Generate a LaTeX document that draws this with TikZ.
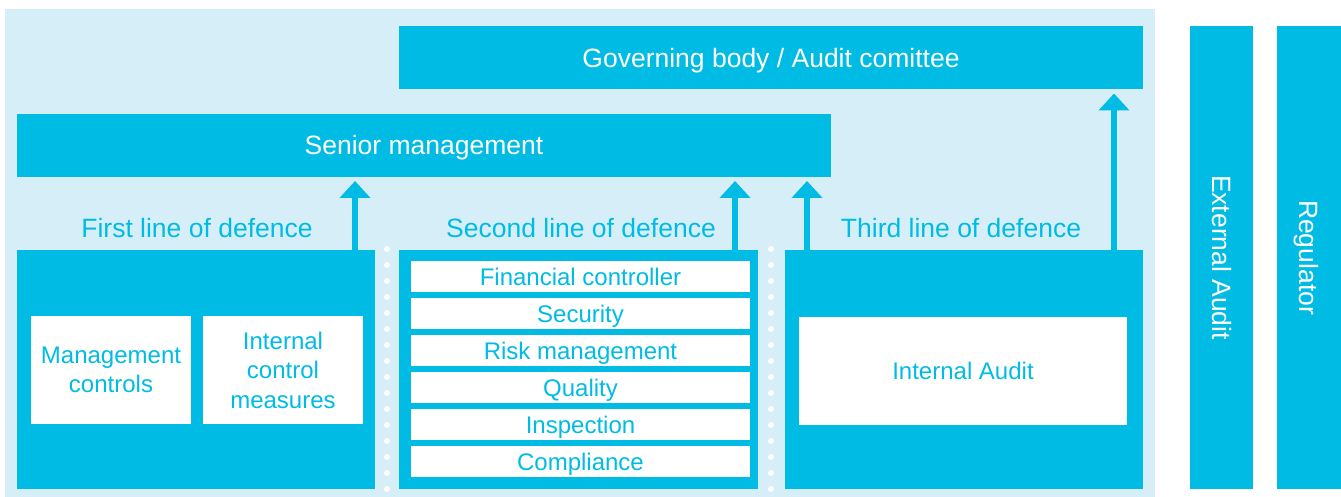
\documentclass[tikz,border=0pt]{standalone}
\usepackage{fontspec}
\setmainfont{Liberation Sans}
\usetikzlibrary{arrows.meta}
\definecolor{cy}{HTML}{00BCE4}
\definecolor{lb}{HTML}{D6EEF8}
\tikzset{
  box/.style={fill=cy, inner sep=0pt, outer sep=0pt, draw=none},
  bigtxt/.style={text=white, font=\fontsize{26.5}{32}\selectfont, text height=19pt, text depth=0pt},
  wbox/.style={fill=white, inner sep=0pt, outer sep=0pt, draw=none, text=cy, font=\fontsize{24}{29.5}\selectfont, align=center},
  onel/.style={text height=17.2pt, text depth=0pt},
  row/.style={wbox, onel, minimum width=339pt, minimum height=31pt},
  lbl/.style={text=cy, font=\fontsize{26.5}{32}\selectfont, inner sep=0pt, text height=19pt, text depth=0pt},
  arr/.style={draw=cy, line width=6pt, -{Triangle[width=30pt,length=17pt]}, shorten >=4pt},
  dots/.style={draw=white, line width=6pt, line cap=round, dash pattern=on 0pt off 16pt}
}
\begin{document}
\begin{tikzpicture}[x=1pt,y=-1pt]
\useasboundingbox (0,0) rectangle (1341,497);
\fill[lb] (5,9) rectangle (1155,497);

\node[box, bigtxt, minimum width=744pt, minimum height=63pt] (gov) at (771,58) {Governing body / Audit comittee};
\node[box, bigtxt, minimum width=814pt, minimum height=63pt] (senior) at (424,145.5) {Senior management};

\node[box, minimum width=358pt, minimum height=239pt] (first) at (196,369.5) {};
\node[box, minimum width=359pt, minimum height=239pt] (second) at (578.5,369.5) {};
\node[box, minimum width=358pt, minimum height=239pt] (third) at (964,369.5) {};

\node[box, bigtxt, minimum width=63pt, minimum height=463pt] (ext) at (1221.5,257.5) {};
\node[bigtxt, rotate=-90, inner sep=0pt] (extt) at (ext.center) {External Audit};
\node[box, bigtxt, minimum width=64pt, minimum height=463pt] (reg) at (1309,257.5) {};
\node[bigtxt, rotate=-90, inner sep=0pt] (regt) at (reg.center) {Regulator};

\node[lbl] (l1) at (197,228) {First line of defence};
\node[lbl] (l2) at (581,228) {Second line of defence};
\node[lbl] (l3) at (961,228) {Third line of defence};

\node[wbox, minimum width=160pt, minimum height=108pt] (mc) at (111,370) {Management\\controls};
\node[wbox, minimum width=160pt, minimum height=108pt] (icm) at (283,370) {Internal\\control\\measures};

\node[row] (r1) at (580.5,276.5) {Financial controller};
\node[row] (r2) at (580.5,313.5) {Security};
\node[row] (r3) at (580.5,350.5) {Risk management};
\node[row] (r4) at (580.5,387.5) {Quality};
\node[row] (r5) at (580.5,424.5) {Inspection};
\node[row] (r6) at (580.5,461.5) {Compliance};

\node[wbox, onel, minimum width=328pt, minimum height=108pt] (ia) at (963,370.5) {Internal Audit};

\coordinate (a1) at (355,0);
\coordinate (a2) at (735,0);
\coordinate (a3) at (807,0);
\coordinate (a4) at (1114,0);
\draw[arr] (a1 |- first.north) -- (a1 |- senior.south);
\draw[arr] (a2 |- second.north) -- (a2 |- senior.south);
\draw[arr] (a3 |- third.north) -- (a3 |- senior.south);
\draw[arr] (a4 |- third.north) -- (a4 |- gov.south);

\coordinate (d1) at (387,249);
\coordinate (d2) at (771,249);
\draw[dots] (d1) -- (d1 |- 0,497);
\draw[dots] (d2) -- (d2 |- 0,497);
\end{tikzpicture}
\end{document}
